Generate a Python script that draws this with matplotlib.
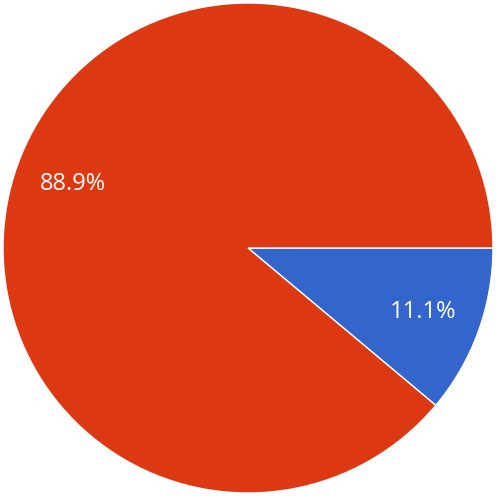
import matplotlib.pyplot as plt

# slice data (Google-charts style pie)
categories = ["A", "B"]
shares = [11.1, 88.9]
colors = ["#3366CC", "#DC3912"]

fig = plt.figure(figsize=(4.96, 4.96), dpi=100)
ax = fig.add_axes([0, 0, 1, 1])

wedges, texts, autotexts = ax.pie(
    shares,
    colors=colors,
    startangle=0,
    counterclock=False,
    radius=1.0,
    autopct="%.1f%%",
    pctdistance=0.76,
    wedgeprops=dict(edgecolor="white", linewidth=1.0),
    textprops=dict(color="white", fontsize=17, family="Open Sans"),
)

# pie spans roughly 3..492 px in a 496 px frame
r = 248 / 245
ax.set_xlim(-r, r)
ax.set_ylim(-r, r)
ax.set_aspect("equal")
ax.axis("off")

fig.savefig("out.png", dpi=100, facecolor="white")
